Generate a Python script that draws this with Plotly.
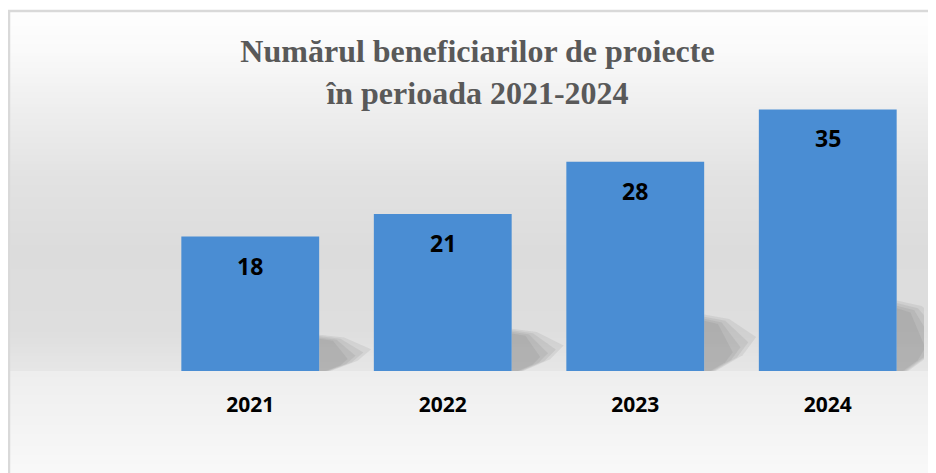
import plotly.graph_objects as go

years = ["2021", "2022", "2023", "2024"]
values = [18, 21, 28, 35]
title_lines = ["Numărul beneficiarilor de proiecte", "în perioada 2021-2024"]

OFF = 8  # page body margin in the screenshot
W, H = 936 - OFF, 473 - OFF  # fit inside the window without scrollbars
L, R, T, B = 146, 12, 94, 102
pw = W - L - R
ph = H - T - B
BAR_W = 0.716

def px_x(p):  # screen pixel -> paper x
    return (p - OFF - L) / pw

def px_y(p):  # screen pixel -> paper y
    return (H - B - (p - OFF)) / ph

fig = go.Figure()
fig.add_trace(go.Bar(
    x=years, y=values,
    marker=dict(color="#4a8dd3", line=dict(width=0)),
    width=BAR_W,
    hoverinfo="x+y",
))

shapes = []
# background gradient (white -> light gray -> floor step -> white)
stops = [(0, 255), (50, 250), (110, 238), (180, 226), (250, 220), (330, 222), (370, 230),
         (371, 238), (420, 243), (490, 250)]
def gray_at(y):
    for (y0, g0), (y1, g1) in zip(stops, stops[1:]):
        if y0 <= y <= y1:
            return g0 + (g1 - g0) * (y - y0) / max(y1 - y0, 1e-9)
    return stops[-1][1]
step = 3
y = 11
while y < 480:
    y2 = y + step
    if y < 371 < y2:
        y2 = 371
    g = int(round(gray_at((y + y2) / 2)))
    shapes.append(dict(type="rect", xref="paper", yref="paper",
                       x0=px_x(9), x1=px_x(950), y0=px_y(y2), y1=px_y(y),
                       fillcolor=f"rgb({g},{g},{g})", line=dict(width=0), layer="below"))
    y = y2

# soft shadows to the right of each bar
for i, v in enumerate(values):
    xr = i + BAR_W / 2
    h = 0.27 * v
    for s, op in [(1.0, 0.10), (0.85, 0.10), (0.7, 0.10), (0.55, 0.10)]:
        pts = [(xr, 0), (xr, h * (0.75 + 0.25 * s)), (xr + 0.13 * s, h * (0.72 + 0.2 * s)),
               (xr + 0.27 * s, h * 0.6 * s), (xr + 0.2 * s, h * 0.28 * s), (xr + 0.06 * s, 0)]
        path = "M " + " L ".join(f"{px:.4f},{py:.4f}" for px, py in pts) + " Z"
        shapes.append(dict(type="path", xref="x", yref="y", path=path,
                           fillcolor=f"rgba(90,90,90,{op})", line=dict(width=0), layer="below"))

# chart border
shapes.append(dict(type="rect", xref="paper", yref="paper",
                   x0=px_x(9), x1=px_x(955), y0=px_y(495), y1=px_y(11),
                   line=dict(color="#d9d9d9", width=2.5), fillcolor="rgba(0,0,0,0)", layer="below"))

annotations = []
for i, v in enumerate(values):
    annotations.append(dict(x=i, y=v, xref="x", yref="y", text=str(v), showarrow=False,
                            yshift=-29, font=dict(family="Open Sans", size=23, color="#000000", weight="bold")))

fig.update_layout(
    width=W, height=H,
    margin=dict(l=L, r=R, t=T, b=B),
    paper_bgcolor="#ffffff",
    plot_bgcolor="rgba(0,0,0,0)",
    title=dict(text="<b>" + "<br>".join(title_lines) + "</b>",
               x=469.5 / W, xanchor="center",
               y=1 - 54 / H, yanchor="top",
               font=dict(family="Liberation Serif", size=32, color="#595959")),
    xaxis=dict(type="category", range=[-0.5, len(years) - 0.5], showgrid=False, showline=False, zeroline=False,
               ticks="outside", ticklen=15, tickcolor="rgba(0,0,0,0)",
               tickfont=dict(family="Open Sans", size=21, color="#000000", weight="bold")),
    yaxis=dict(range=[0, 36], visible=False, showgrid=False, zeroline=False),
    shapes=shapes,
    annotations=annotations,
    showlegend=False,
    bargap=0.284,
)

fig.write_html("out.html")
